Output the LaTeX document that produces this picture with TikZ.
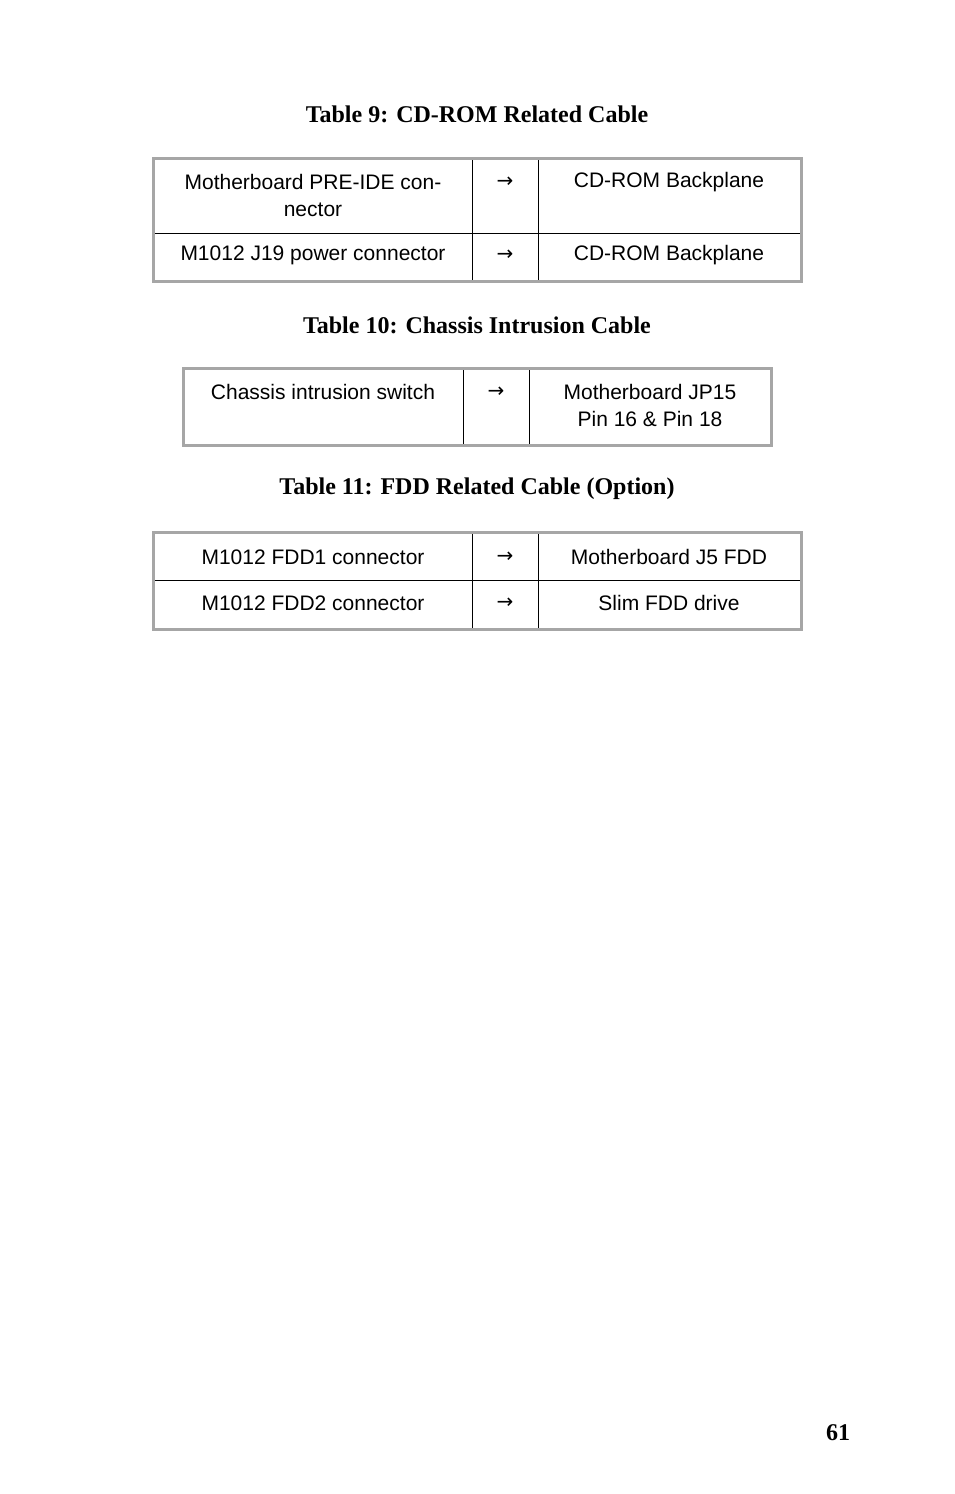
\documentclass[tikz,border=0pt]{standalone}
\usepackage{fontspec}
\setmainfont{Liberation Sans}
\newfontfamily\serifbf{Liberation Serif}
\newfontfamily\djv{DejaVu Sans}
\begin{document}
\begin{tikzpicture}[x=0.5pt,y=-0.5pt,
  cell/.style={font=\fontsize{10.5}{13.5}\selectfont,align=center,inner sep=0pt},
  ttl/.style={font=\serifbf\bfseries\fontsize{12}{14}\selectfont,inner sep=0pt},
  outer/.style={draw=gray!70,line width=1.5pt},
  inner/.style={draw=black,line width=0.5pt}]
\useasboundingbox (0,0) rectangle (954,1494);
% Table 9
\node[ttl] (t9) at (477,114) {Table 9: CD-ROM Related Cable};
\draw[inner] (472,158) -- (472,281) (538,158) -- (538,281) (153,233) -- (801,233);
\draw[outer] (153,158) rectangle (801,281);
\node[cell] (a1) at (313,195) {Motherboard PRE-IDE con-\\nector};
\node[cell,font=\djv\fontsize{10}{12}\selectfont] (a2) at (505,182) {→};
\node[cell] (a3) at (669,182) {CD-ROM Backplane};
\node[cell] (b1) at (313,255) {M1012 J19 power connector};
\node[cell,font=\djv\fontsize{10}{12}\selectfont] (b2) at (505,255) {→};
\node[cell] (b3) at (669,255) {CD-ROM Backplane};
% Table 10
\node[ttl] (t10) at (477,325) {Table 10: Chassis Intrusion Cable};
\draw[inner] (463,368) -- (463,445) (529,368) -- (529,445);
\draw[outer] (183,368) rectangle (771,445);
\node[cell] (c1) at (323,392) {Chassis intrusion switch};
\node[cell,font=\djv\fontsize{10}{12}\selectfont] (c2) at (496,392) {→};
\node[cell] (c3) at (650,405) {Motherboard JP15\\Pin 16 \& Pin 18};
% Table 11
\node[ttl] (t11) at (477,489) {Table 11: FDD Related Cable (Option)};
\draw[inner] (472,532) -- (472,629) (538,532) -- (538,629) (153,580) -- (801,580);
\draw[outer] (153,532) rectangle (801,629);
\node[cell] (d1) at (313,557) {M1012 FDD1 connector};
\node[cell,font=\djv\fontsize{10}{12}\selectfont] (d2) at (505,557) {→};
\node[cell] (d3) at (669,557) {Motherboard J5 FDD};
\node[cell] (e1) at (313,603) {M1012 FDD2 connector};
\node[cell,font=\djv\fontsize{10}{12}\selectfont] (e2) at (505,603) {→};
\node[cell] (e3) at (669,603) {Slim FDD drive};
\node[ttl] (pg) at (838,1433) {61};
\end{tikzpicture}
\end{document}
